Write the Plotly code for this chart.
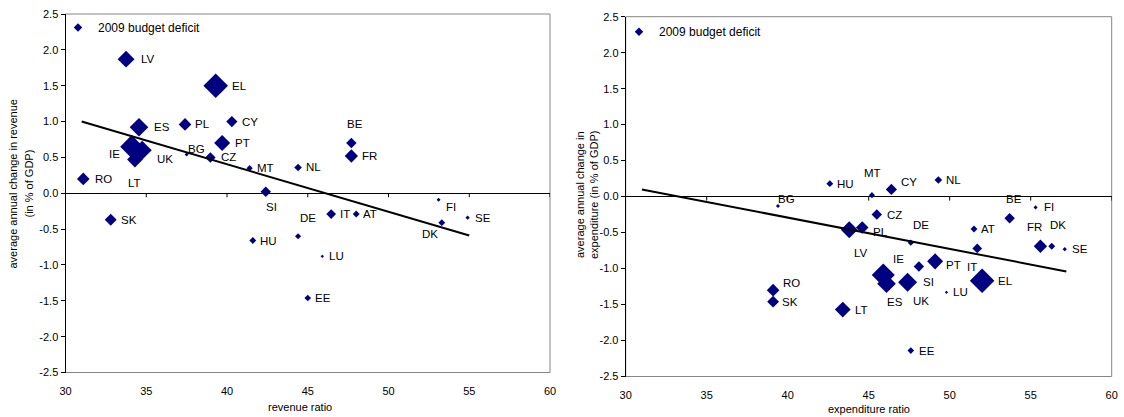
import plotly.graph_objects as go

# ---------------- data ----------------
countries = ["BE", "BG", "CZ", "DK", "DE", "EE", "IE", "EL", "ES", "FR", "IT", "CY", "LV", "LT",
             "LU", "HU", "MT", "NL", "AT", "PL", "PT", "RO", "SI", "SK", "FI", "SE", "UK"]

revenue_ratio = [47.7, 37.5, 38.97, 53.3, 44.4, 45.0, 34.1, 39.3, 34.55, 47.7, 46.45, 40.3, 33.75, 34.3,
                 45.9, 41.6, 41.4, 44.4, 48.0, 37.4, 39.7, 31.1, 42.4, 32.8, 53.1, 54.9, 34.75]
revenue_change = [0.70, 0.54, 0.50, -0.41, -0.60, -1.46, 0.65, 1.50, 0.92, 0.52, -0.29, 1.00, 1.87, 0.47,
                  -0.88, -0.66, 0.35, 0.36, -0.29, 0.96, 0.70, 0.20, 0.02, -0.37, -0.09, -0.34, 0.60]

expenditure_ratio = [53.7, 39.4, 45.5, 56.3, 47.6, 47.6, 45.9, 52.0, 46.1, 55.6, 51.7, 46.4, 43.8, 43.4,
                     49.8, 42.6, 45.2, 49.3, 51.5, 44.6, 49.1, 39.1, 48.1, 39.1, 55.3, 57.1, 47.4]
expenditure_change = [-0.30, -0.13, -0.25, -0.69, -0.64, -2.14, -1.09, -1.17, -1.21, -0.69, -0.72, 0.10, -0.46, -1.57,
                      -1.33, 0.18, 0.02, 0.23, -0.45, -0.43, -0.90, -1.30, -0.97, -1.46, -0.15, -0.73, -1.19]

# 2009 budget deficit (% of GDP)
deficit_2009 = [5.5, 1.0, 5.5, 3.0, 2.5, 2.8, 14.3, 15.4, 11.2, 7.5, 5.0, 6.0, 10.0, 9.2,
                0.5, 3.0, 2.5, 3.5, 3.0, 7.0, 9.4, 7.0, 5.5, 6.5, 1.0, 1.2, 11.5]

rev_trend_x = [31.0, 55.0]
rev_trend_y = [1.00, -0.59]
exp_trend_x = [31.0, 57.2]
exp_trend_y = [0.10, -1.04]

x_ticks = [30, 35, 40, 45, 50, 55, 60]
y_ticks = [-2.5, -2.0, -1.5, -1.0, -0.5, 0.0, 0.5, 1.0, 1.5, 2.0, 2.5]
legend_label = "2009 budget deficit"

# ---------------- styling ----------------
W, H = 1124, 417
FONT = "Liberation Sans, Arial, sans-serif"
NAVY = "#000080"

# label placement: (xanchor, dx px, dy px downward)
left_label_pos = {
    "LV": ("left", 15, 0), "EL": ("left", 16, 0), "ES": ("left", 15, 0), "PL": ("left", 10, 0),
    "CY": ("left", 10, 0), "PT": ("left", 13, 0), "BG": ("left", 1, -6), "CZ": ("left", 11, 0),
    "IE": ("right", -12, 7), "UK": ("left", 15, 9), "LT": ("center", 0, 23), "RO": ("left", 12, 0),
    "MT": ("left", 7, 0), "SI": ("center", 6, 15), "NL": ("left", 8, 0), "BE": ("center", 4, -19),
    "FR": ("left", 11, 0), "FI": ("left", 7, 7), "SK": ("left", 10, 0), "HU": ("left", 7, 0),
    "DE": ("center", 10, -18), "IT": ("left", 9, 0), "AT": ("left", 7, 0), "LU": ("left", 7, 0),
    "EE": ("left", 7, 0), "SE": ("left", 7, 0), "DK": ("center", -12, 11),
}
right_label_pos = {
    "HU": ("left", 7, 0), "BG": ("left", 0, -7), "MT": ("center", 1, -22), "CY": ("left", 10, -7),
    "NL": ("left", 8, 0), "FI": ("left", 8, 0), "BE": ("center", 4, -19), "CZ": ("left", 10, 0),
    "DE": ("center", 10, -18), "AT": ("left", 7, 0), "IT": ("center", -5, 19), "FR": ("center", -6, -19),
    "DK": ("center", 6, -21), "SE": ("left", 7, 0), "LV": ("center", 12, 23), "PL": ("left", 11, 4),
    "IE": ("center", 15, -16), "ES": ("center", 8, 18), "UK": ("center", 13, 19), "SI": ("left", 4, 16),
    "PT": ("left", 11, 4), "LU": ("left", 7, 0), "EL": ("left", 16, 0), "LT": ("left", 12, 0),
    "EE": ("left", 8, 0), "RO": ("left", 10, -7), "SK": ("left", 9, 0),
}

marker_sizes = [2 + 1.1 * d for d in deficit_2009]

fig = go.Figure()

panels = [
    ("x", "y", revenue_ratio, revenue_change, rev_trend_x, rev_trend_y, left_label_pos, "legend"),
    ("x2", "y2", expenditure_ratio, expenditure_change, exp_trend_x, exp_trend_y, right_label_pos, "legend2"),
]

annotations = []
shapes = []
for xa, ya, xs, ys, tx, ty, lpos, lg in panels:
    fig.add_trace(go.Scatter(
        x=xs, y=ys, mode="markers", xaxis=xa, yaxis=ya, showlegend=False,
        marker=dict(symbol="diamond", size=marker_sizes, color=NAVY, opacity=1, line=dict(width=0)),
        hovertext=countries,
    ))
    fig.add_trace(go.Scatter(
        x=tx, y=ty, mode="lines", xaxis=xa, yaxis=ya, showlegend=False,
        line=dict(color="black", width=2),
    ))
    fig.add_trace(go.Scatter(
        x=[None], y=[None], mode="markers", xaxis=xa, yaxis=ya, name=legend_label,
        legend=lg, showlegend=True,
        marker=dict(symbol="diamond", size=6.5, color=NAVY, opacity=1, line=dict(width=0)),
    ))
    for c, xv, yv in zip(countries, xs, ys):
        anc, dx, dy = lpos[c]
        annotations.append(dict(
            x=xv, y=yv, xref=xa, yref=ya, text=c, showarrow=False,
            xanchor=anc, yanchor="middle", xshift=dx, yshift=-dy,
            borderpad=0, borderwidth=0,
            font=dict(family=FONT, size=11.5, color="black"),
        ))
    # plot-area border
    shapes.append(dict(type="rect", xref=f"{xa} domain", yref=f"{ya} domain",
                       x0=0, x1=1, y0=0, y1=1, line=dict(color="#868686", width=1), layer="below"))
    # tick marks on the zero line
    for t in x_ticks[1:]:
        shapes.append(dict(type="line", xref=xa, yref=ya, x0=t, x1=t,
                           ysizemode="pixel", yanchor=0, y0=0, y1=-4,
                           line=dict(color="black", width=1)))

def xaxis_cfg(dom, anchor):
    return dict(domain=dom, anchor=anchor, range=[30, 60], tickvals=x_ticks,
                ticks="outside", ticklen=8, tickcolor="rgba(0,0,0,0)",
                showline=False, zeroline=False, showgrid=False, automargin=False,
                tickfont=dict(family=FONT, size=11, color="black"), fixedrange=True)

def yaxis_cfg(dom, anchor):
    return dict(domain=dom, anchor=anchor, range=[-2.5, 2.5], tickvals=y_ticks,
                ticktext=[f"{v:.1f}" for v in y_ticks],
                ticks="outside", ticklen=4, tickcolor="black", tickwidth=1,
                showline=True, linecolor="black", linewidth=1,
                zeroline=True, zerolinecolor="black", zerolinewidth=1,
                showgrid=False, automargin=False,
                tickfont=dict(family=FONT, size=11, color="black"), fixedrange=True)

# axis titles
def txt(text, xp, yp, angle=0):
    return dict(x=xp / W, y=1 - yp / H, xref="paper", yref="paper", text=text,
                showarrow=False, xanchor="center", yanchor="middle", textangle=angle,
                font=dict(family=FONT, size=11, color="black"))

annotations += [
    txt("revenue ratio", 300, 407),
    txt("expenditure ratio", 868.5, 409),
    txt("average annual change in revenue", 12.5, 184, -90),
    txt("(in % of GDP)", 28.5, 184, -90),
    txt("average annual change in", 580, 195, -90),
    txt("expenditure (in % of GDP)", 594, 195, -90),
]

fig.update_layout(
    width=W, height=H,
    margin=dict(l=0, r=0, t=0, b=0),
    paper_bgcolor="white", plot_bgcolor="white",
    font=dict(family=FONT, size=11, color="black"),
    xaxis=xaxis_cfg([65.5 / W, 550 / W], "y"),
    yaxis=yaxis_cfg([(H - 372.5) / H, (H - 14) / H], "x"),
    xaxis2=xaxis_cfg([625.7 / W, 1111.7 / W], "y2"),
    yaxis2=yaxis_cfg([(H - 376.5) / H, (H - 16.7) / H], "x2"),
    legend=dict(x=58 / W, y=1 - 27.5 / H, xanchor="left", yanchor="middle",
                bgcolor="rgba(0,0,0,0)", borderwidth=0, itemwidth=30,
                font=dict(family=FONT, size=12, color="black")),
    legend2=dict(x=619 / W, y=1 - 31.7 / H, xanchor="left", yanchor="middle",
                 bgcolor="rgba(0,0,0,0)", borderwidth=0, itemwidth=30,
                 font=dict(family=FONT, size=12, color="black")),
    annotations=annotations,
    shapes=shapes,
    showlegend=True,
)

fig.write_html("out.html")
